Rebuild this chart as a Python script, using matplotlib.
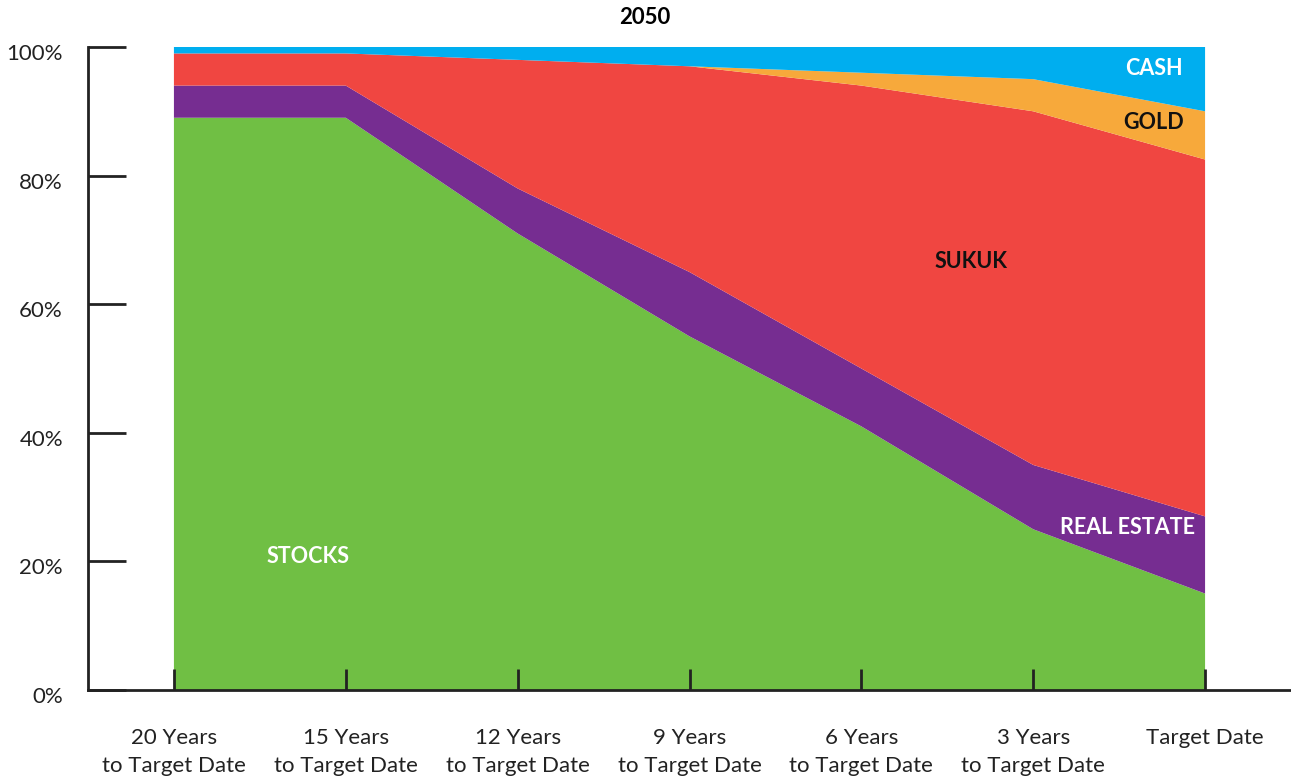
import numpy as np
import matplotlib.pyplot as plt
from matplotlib.transforms import ScaledTranslation

plt.rcParams['font.family'] = ['Lato', 'DejaVu Sans']

# allocation (% of portfolio) at each glide path point
periods = ['20 Years\nto Target Date', '15 Years\nto Target Date', '12 Years\nto Target Date',
           '9 Years\nto Target Date', '6 Years\nto Target Date', '3 Years\nto Target Date',
           'Target Date']
stocks = [89, 89, 71, 55, 41, 25, 15]
real_estate = [5, 5, 7, 10, 9, 10, 12]
sukuk = [5, 5, 20, 32, 44, 55, 55.5]
gold = [0, 0, 0, 0, 2, 5, 7.5]
cash = [1, 1, 2, 3, 4, 5, 10]

colors = ['#70BF44', '#762D91', '#F04641', '#F7A93B', '#00AEEF']

fig = plt.figure(figsize=(12.91, 7.81), dpi=100)
ax = fig.add_axes([88/1291, 1 - 690/781, 1 - 88/1291, (690 - 47)/781])

x = np.arange(len(periods))
ax.stackplot(x, stocks, real_estate, sukuk, gold, cash, colors=colors, lw=0)

ax.set_xlim(-0.5, 6.5)
ax.set_ylim(0, 100)
ax.set_yticks(range(0, 101, 20))
ax.set_yticklabels([f'{v}%' for v in range(0, 101, 20)])
ax.set_xticks(x)
ax.set_xticklabels(periods, linespacing=1.55)

for s in ['top', 'right']:
    ax.spines[s].set_visible(False)
for s in ['left', 'bottom']:
    ax.spines[s].set_linewidth(2)
    ax.spines[s].set_color('#222222')
ax.spines['left'].set_bounds(0, 100)

ax.tick_params(axis='y', direction='in', length=27, width=2, pad=18, labelsize=16, colors='#222222')
ax.tick_params(axis='x', direction='in', length=15, width=2, pad=27, labelsize=16, colors='#222222')

# y labels sit a little below their ticks in the original
shift = ScaledTranslation(0, -5/100, fig.dpi_scale_trans)
for t in ax.get_yticklabels():
    t.set_transform(t.get_transform() + shift)

lab = dict(fontsize=15.5, fontweight='bold', ha='center', va='center')
ax.text(0.78, 20.8, 'STOCKS', color='white', **lab)
ax.text(4.64, 66.6, 'SUKUK', color='#111111', **lab)
ax.text(5.55, 25.3, 'REAL ESTATE', color='white', **lab)
ax.text(5.70, 88.3, 'GOLD', color='#111111', **lab)
ax.text(5.70, 96.7, 'CASH', color='white', **lab)

fig.text(645/1291, 1 - 18/781, '2050', ha='center', va='center', fontsize=16, fontweight='bold')

fig.savefig('out.png', dpi=100)
